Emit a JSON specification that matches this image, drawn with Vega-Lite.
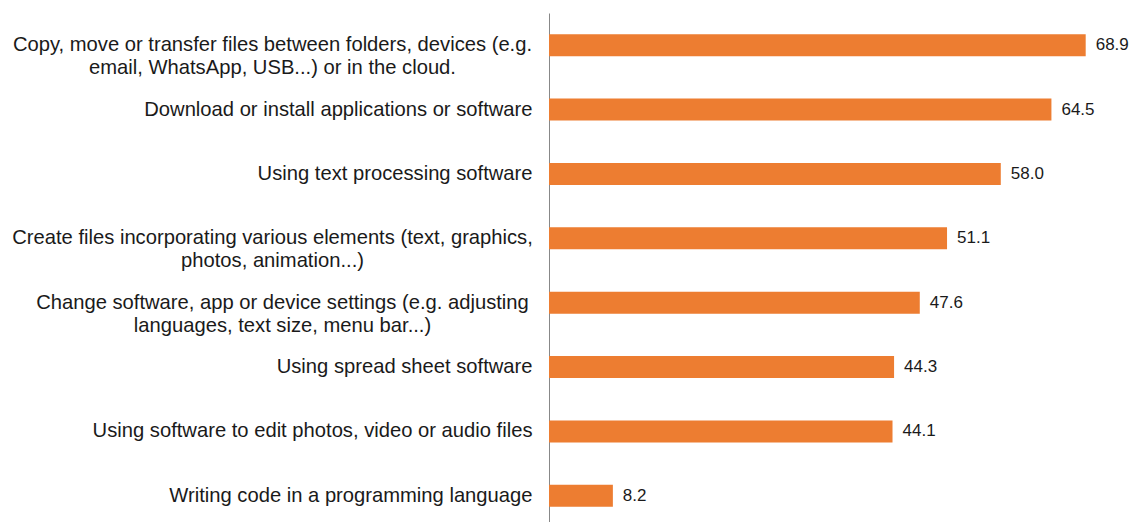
{
  "$schema": "https://vega.github.io/schema/vega-lite/v6.json",
  "width": 592,
  "height": 515,
  "autosize": "none",
  "padding": {"left": 549, "top": 13, "right": 0, "bottom": 0},
  "background": "white",
  "config": {"view": {"stroke": null}, "font": "Liberation Sans"},
  "data": {
    "values": [
      {"activity": "Copy, move or transfer files between folders, devices (e.g.|email, WhatsApp, USB...) or in the cloud.", "share": 68.9},
      {"activity": "Download or install applications or software", "share": 64.5},
      {"activity": "Using text processing software", "share": 58.0},
      {"activity": "Create files incorporating various elements (text, graphics,|photos, animation...)", "share": 51.1},
      {"activity": "Change software, app or device settings (e.g. adjusting|languages, text size, menu bar...)", "share": 47.6},
      {"activity": "Using spread sheet software", "share": 44.3},
      {"activity": "Using software to edit photos, video or audio files", "share": 44.1},
      {"activity": "Writing code in a programming language", "share": 8.2}
    ]
  },
  "encoding": {
    "y": {
      "field": "activity",
      "type": "nominal",
      "sort": null,
      "title": null,
      "scale": {"paddingInner": 0.66, "paddingOuter": 0.33},
      "axis": {
        "domain": true,
        "domainColor": "#888888",
        "domainWidth": 1,
        "ticks": false,
        "grid": false,
        "labelFontSize": 20.2,
        "labelColor": "#1a1a1a",
        "labelLimit": 0,
        "labelLineHeight": 23,
        "labelExpr": "split(datum.label, '|')",
        "labelAlign": {
          "condition": {"test": "indexof(datum.value, '|') >= 0", "value": "center"},
          "value": "right"
        },
        "labelPadding": {
          "condition": [
            {"test": "indexof(datum.value, 'Copy') == 0", "value": 277},
            {"test": "indexof(datum.value, 'Create') == 0", "value": 277},
            {"test": "indexof(datum.value, 'Change') == 0", "value": 267}
          ],
          "value": 17
        }
      }
    },
    "x": {
      "field": "share",
      "type": "quantitative",
      "scale": {"domain": [0, 76]},
      "axis": null
    }
  },
  "layer": [
    {"mark": {"type": "bar", "color": "#ED7D31"}},
    {
      "mark": {"type": "text", "align": "left", "baseline": "middle", "dx": 10, "fontSize": 17, "color": "#1a1a1a"},
      "encoding": {"text": {"field": "share", "type": "quantitative", "format": ".1f"}}
    }
  ]
}
